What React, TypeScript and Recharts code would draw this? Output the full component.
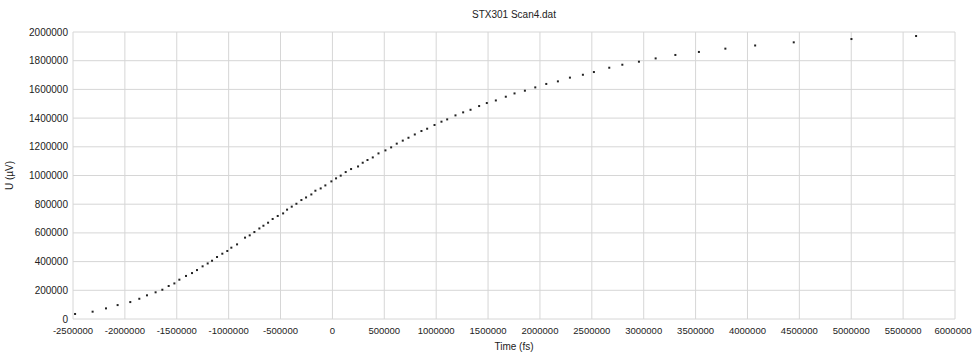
import { CartesianGrid, Label, Scatter, ScatterChart, XAxis, YAxis } from 'recharts'

// Scan samples: time (fs) and voltage (µV)
const timeFs = [
  -2480000, -2311000, -2182000, -2070000, -1948000, -1861000, -1787000, -1704000, -1639000, -1578000,
  -1523000, -1475000, -1411000, -1353000, -1305000, -1251000, -1202000, -1160000, -1112000, -1061000,
  -1013000, -974000, -919000, -842000, -797000, -752000, -704000, -665000, -620000, -576000,
  -527000, -475000, -437000, -392000, -347000, -299000, -254000, -203000, -164000, -113000,
  -68000, -10000, 35000, 80000, 128000, 180000, 247000, 292000, 338000, 389000,
  444000, 511000, 566000, 620000, 678000, 733000, 794000, 858000, 913000, 984000,
  1051000, 1106000, 1186000, 1260000, 1331000, 1414000, 1488000, 1575000, 1671000, 1755000,
  1855000, 1955000, 2061000, 2173000, 2289000, 2414000, 2520000, 2668000, 2794000, 2954000,
  3115000, 3305000, 3532000, 3787000, 4074000, 4446000, 5002000, 5625000,
]

const voltageUv = [
  35000, 51000, 74000, 97000, 118000, 141000, 165000, 186000, 204000, 230000,
  248000, 274000, 300000, 320000, 341000, 367000, 387000, 406000, 432000, 455000,
  474000, 497000, 520000, 567000, 583000, 606000, 631000, 650000, 671000, 697000,
  718000, 736000, 762000, 783000, 803000, 829000, 847000, 868000, 894000, 910000,
  931000, 959000, 980000, 999000, 1024000, 1045000, 1063000, 1089000, 1108000, 1126000,
  1154000, 1175000, 1196000, 1222000, 1243000, 1263000, 1286000, 1310000, 1326000, 1352000,
  1375000, 1391000, 1419000, 1440000, 1458000, 1484000, 1505000, 1523000, 1549000, 1572000,
  1591000, 1614000, 1638000, 1656000, 1682000, 1702000, 1721000, 1751000, 1772000, 1793000,
  1816000, 1840000, 1861000, 1884000, 1906000, 1928000, 1951000, 1972000,
]

const xTicks = [
  -2500000, -2000000, -1500000, -1000000, -500000, 0, 500000, 1000000, 1500000, 2000000,
  2500000, 3000000, 3500000, 4000000, 4500000, 5000000, 5500000, 6000000,
]
const yTicks = [0, 200000, 400000, 600000, 800000, 1000000, 1200000, 1400000, 1600000, 1800000, 2000000]

const points = timeFs.map((t, i) => ({ t, u: voltageUv[i] }))

const FONT = '"Liberation Sans", Arial, sans-serif'
const tick = { fill: '#222', fontSize: 10, fontFamily: FONT }

function Dot({ cx, cy }: { cx?: number; cy?: number }) {
  if (cx == null || cy == null) return null
  return <rect x={cx - 1} y={cy - 1} width={2} height={2} fill="#222" />
}

// keeps the last label inside the 972px page
function XTick({ x, y, payload }: { x?: number; y?: number; payload?: { value: number } }) {
  if (x == null || y == null || !payload) return null
  return (
    <text x={Math.min(x, 953)} y={y} dy="0.71em" textAnchor="middle" fill="#222" fontSize={9.5} fontFamily={FONT}>
      {payload.value}
    </text>
  )
}

export default function App() {
  return (
    <div style={{ position: 'relative', width: 972, height: 356, background: '#fff', fontFamily: FONT }}>
      <style>{'body { margin: 0; }'}</style>
      <div
        style={{
          position: 'absolute',
          top: 9,
          left: 0,
          width: 1028,
          textAlign: 'center',
          fontSize: 10,
          color: '#222',
        }}
      >
        STX301 Scan4.dat
      </div>
      <ScatterChart width={972} height={356} margin={{ top: 32, right: 17, left: 13, bottom: 6 }}>
        <CartesianGrid stroke="#d6d6d6" />
        <XAxis
          type="number"
          dataKey="t"
          domain={[-2500000, 6000000]}
          ticks={xTicks}
          interval={0}
          axisLine={false}
          tickLine={false}
          tickSize={6}
          tickMargin={2}
          tick={<XTick />}
          height={31}
        >
          <Label value="Time (fs)" position="insideBottom" offset={0} style={{ fill: '#222', fontSize: 10, fontFamily: FONT }} />
        </XAxis>
        <YAxis
          type="number"
          dataKey="u"
          domain={[0, 2000000]}
          ticks={yTicks}
          interval={0}
          axisLine={false}
          tickLine={false}
          tickSize={3}
          tickMargin={2}
          tick={tick}
          width={60}
        >
          <Label
            value="U (µV)"
            angle={-90}
            position="insideLeft"
            offset={-4}
            style={{ fill: '#222', fontSize: 10, fontFamily: FONT, textAnchor: 'middle' }}
          />
        </YAxis>
        <Scatter data={points} shape={<Dot />} isAnimationActive={false} />
      </ScatterChart>
    </div>
  )
}
